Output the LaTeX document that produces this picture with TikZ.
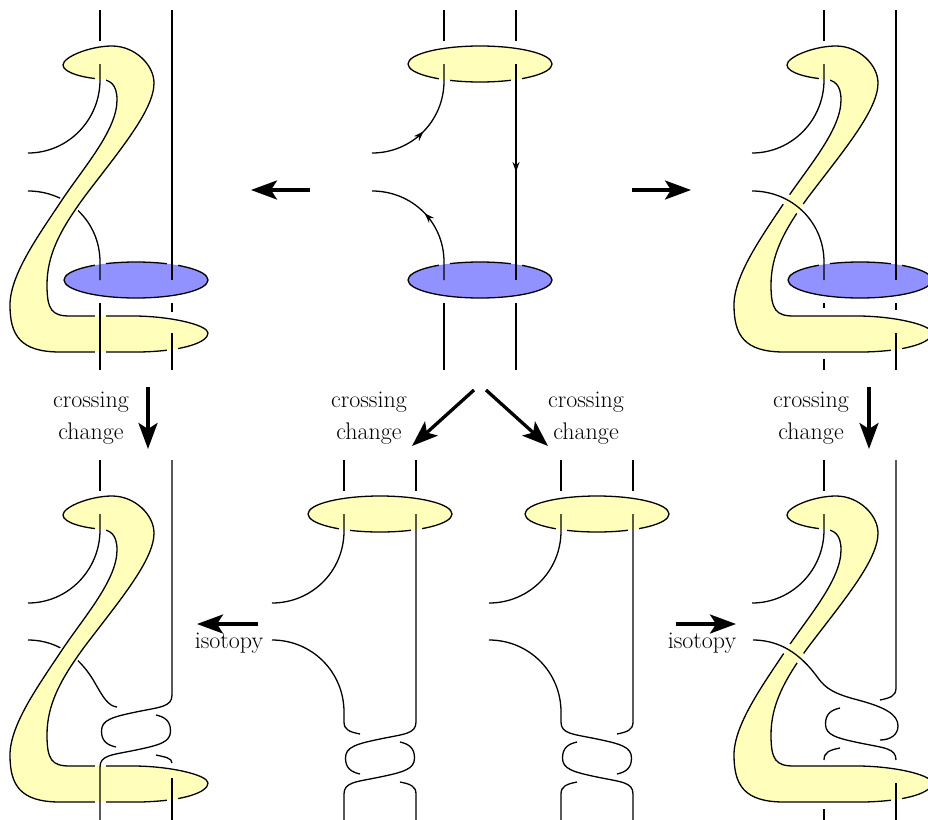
\documentclass[tikz,border=0pt]{standalone}
\usepackage{fontspec}
\usetikzlibrary{arrows.meta,decorations.markings}
\definecolor{yfill}{RGB}{255,255,187}
\definecolor{bfill}{RGB}{145,145,255}
\tikzset{
  strand/.style={line width=1.3pt},
  outl/.style={line width=1.3pt},
  bigarrow/.style={line width=3.3pt,-{Stealth[length=26pt,width=19pt,inset=6pt]}},
  lbl/.style={font=\fontsize{24}{28}\selectfont, inner sep=0pt},
  midarrow/.style={postaction={decorate},decoration={markings,mark=at position #1 with {\arrow{Stealth[length=10pt,width=7pt]}}}}
}
\newcommand{\bandpath}{(63,65) .. controls (63,57) and (90,46) .. (112,46) .. controls (135,46) and (154,65) .. (154,83) .. controls (154,110) and (120,150) .. (85,196) .. controls (60,230) and (47,255) .. (47,285) .. controls (47,310) and (52,316) .. (70,316) -- (133,316) .. controls (170,316) and (208,325) .. (208,333) .. controls (208,342) and (185,351) .. (140,352) -- (60,352) .. controls (20,352) and (10,335) .. (10,305) .. controls (10,275) and (38,236) .. (62,200) .. controls (84,167) and (117,130) .. (117,100) .. controls (117,84) and (110,80) .. (100,79) .. controls (85,78) and (63,73) .. (63,65) -- cycle}
\newcommand{\drawband}{\draw[white,line width=5pt] \bandpath; \fill[yfill] \bandpath; \draw[outl] \bandpath;}
\newcommand{\diskpath}[2]{(#1,#2) ellipse [x radius=72pt, y radius=18pt]}
\newcommand{\drawdisk}[3]{\fill[#3] \diskpath{#1}{#2}; \draw[outl] \diskpath{#1}{#2};}
\newcommand{\crossgap}[3]{\draw[white,line width=11pt] #3; \begin{scope}\clip #2; \draw[#1,line width=11pt] #3; \end{scope}}
\newcommand{\twA}{-- (0,0) .. controls (0,8) and (6,10) .. (16,12)}
\newcommand{\twB}{-- (72,0) .. controls (72,12) and (60,12) .. (36,17) .. controls (12,22) and (1.5,25) .. (1.5,36) .. controls (1.5,46) and (7,50) .. (16,52)}
\newcommand{\twC}{(56,20) .. controls (65,22) and (70.5,26) .. (70.5,36) .. controls (70.5,47) and (60,50) .. (36,55) .. controls (12,60) and (0,60) .. (0,72)}
\newcommand{\twD}{(56,60) .. controls (66,62) and (72,64) .. (72,72)}
\begin{document}
\begin{tikzpicture}[x=1pt,y=-1pt]
\useasboundingbox (0,0) rectangle (928,819);

% ===== Panel A (top left)
\begin{scope}
 \drawdisk{136}{280}{bfill}
 \crossgap{bfill}{\diskpath{136}{280}}{(100,250)--(100,272)}
 \crossgap{bfill}{\diskpath{136}{280}}{(172,250)--(172,272)}
 \draw[strand] (172,10) -- (172,280);
 \draw[strand] (28,191) .. controls (68,191) and (100,222) .. (100,262) -- (100,280);
 \drawband
 \crossgap{yfill}{\bandpath}{(100,68)--(100,90)}
 \crossgap{yfill}{\bandpath}{(100,306)--(100,364)}
 \crossgap{yfill}{\bandpath}{(172,338)--(172,362)}
 \draw[strand] (100,10) -- (100,41);
 \draw[strand] (100,64) -- (100,80) .. controls (100,120) and (68,153) .. (28,153);
 \draw[strand] (100,303) -- (100,370);
 \draw[strand] (172,303) -- (172,312);
 \draw[strand] (172,333) -- (172,370);
\end{scope}

% ===== Panel C (top right)
\begin{scope}[shift={(724,0)}]
 \drawdisk{136}{280}{bfill}
 \crossgap{bfill}{\diskpath{136}{280}}{(100,250)--(100,272)}
 \crossgap{bfill}{\diskpath{136}{280}}{(172,250)--(172,272)}
 \draw[strand] (172,10) -- (172,280);
 \drawband
 \crossgap{yfill}{\bandpath}{(100,68)--(100,90)}
 \crossgap{yfill}{\bandpath}{(28,191) .. controls (68,191) and (100,222) .. (100,262)}
 \crossgap{yfill}{\bandpath}{(172,338)--(172,362)}
 \draw[strand] (100,10) -- (100,41);
 \draw[strand] (100,64) -- (100,80) .. controls (100,120) and (68,153) .. (28,153);
 \draw[strand] (28,191) .. controls (68,191) and (100,222) .. (100,262) -- (100,280);
 \draw[strand] (100,303) -- (100,308);
 \draw[strand] (100,359) -- (100,370);
 \draw[strand] (172,303) -- (172,310);
 \draw[strand] (172,333) -- (172,370);
\end{scope}

% ===== Panel B (top middle)
\drawdisk{480}{64}{yfill}
\crossgap{yfill}{\diskpath{480}{64}}{(444,70)--(444,90)}
\crossgap{yfill}{\diskpath{480}{64}}{(516,70)--(516,90)}
\drawdisk{480}{280}{bfill}
\crossgap{bfill}{\diskpath{480}{280}}{(444,250)--(444,272)}
\crossgap{bfill}{\diskpath{480}{280}}{(516,250)--(516,272)}
\draw[strand] (444,10) -- (444,41);
\draw[strand] (516,10) -- (516,41);
\draw[strand,midarrow=0.44] (372,153) .. controls (412,153) and (444,121) .. (444,81) -- (444,64);
\draw[strand,midarrow=0.55] (444,280) -- (444,262) .. controls (444,222) and (412,191) .. (372,191);
\draw[strand,midarrow=0.5] (516,64) -- (516,280);
\draw[strand] (444,303) -- (444,370);
\draw[strand] (516,303) -- (516,370);

% ===== Panel D (bottom left)
\begin{scope}[shift={(0,450)}]
 \draw[strand] (28,190) .. controls (60,190) and (82,210) .. (95,233) .. controls (103,247) and (108,256) .. (117,257);
 \drawband
 \crossgap{yfill}{\bandpath}{(100,68)--(100,90)}
 \crossgap{yfill}{\bandpath}{(100,306)--(100,364)}
 \crossgap{yfill}{\bandpath}{(172,338)--(172,362)}
 \draw[strand] (100,10) -- (100,41);
 \draw[strand] (100,64) -- (100,80) .. controls (100,120) and (68,153) .. (28,153);
 \begin{scope}[shift={(100,245)}]
  \draw[strand] (72,-235) \twB;
  \draw[strand] \twC -- (0,130);
  \draw[strand] (56,60) .. controls (65,62) and (72,63) .. (72,68);
  \draw[strand] (72,83) -- (72,130);
 \end{scope}
\end{scope}

% ===== Panel E1
\begin{scope}[shift={(344,722)}]
 \drawdisk{36}{-208}{yfill}
 \crossgap{yfill}{\diskpath{36}{-208}}{(0,-200)--(0,-182)}
 \crossgap{yfill}{\diskpath{36}{-208}}{(72,-200)--(72,-182)}
 \draw[strand] (0,-262) -- (0,-231);
 \draw[strand] (72,-262) -- (72,-231);
 \draw[strand] (0,-208) -- (0,-191) .. controls (0,-151) and (-32,-119) .. (-72,-119);
 \draw[strand] (-72,-82) .. controls (-32,-82) and (0,-50) .. (0,-10) \twA;
 \draw[strand] (72,-208) \twB;
 \draw[strand] \twC -- (0,110);
 \draw[strand] \twD -- (72,110);
\end{scope}

% ===== Panel E2
\begin{scope}[shift={(561,722)}]
 \drawdisk{36}{-208}{yfill}
 \crossgap{yfill}{\diskpath{36}{-208}}{(0,-200)--(0,-182)}
 \crossgap{yfill}{\diskpath{36}{-208}}{(72,-200)--(72,-182)}
 \draw[strand] (0,-262) -- (0,-231);
 \draw[strand] (72,-262) -- (72,-231);
 \draw[strand] (0,-208) -- (0,-191) .. controls (0,-151) and (-32,-119) .. (-72,-119);
 \begin{scope}[shift={(72,0)},xscale=-1]
  \draw[strand] (144,-82) .. controls (104,-82) and (72,-50) .. (72,-10) \twB;
  \draw[strand] (0,-208) \twA;
  \draw[strand] \twC -- (0,110);
  \draw[strand] \twD -- (72,110);
 \end{scope}
\end{scope}

% ===== Panel F (bottom right)
\begin{scope}[shift={(724,450)}]
 \drawband
 \crossgap{yfill}{\bandpath}{(100,68)--(100,90)}
 \crossgap{yfill}{\bandpath}{(29,190) .. controls (61,190) and (81,210) .. (94,228)}
 \crossgap{yfill}{\bandpath}{(172,338)--(172,362)}
 \draw[strand] (100,10) -- (100,41);
 \draw[strand] (100,64) -- (100,80) .. controls (100,120) and (68,153) .. (28,153);
 \draw[strand] (29,190) .. controls (61,190) and (81,210) .. (94,228) .. controls (102,239) and (111,244) .. (134,250) .. controls (160,257) and (174,264) .. (174,276) .. controls (174,285) and (166,290) .. (156,290);
 \begin{scope}[shift={(172,238)},xscale=-1]
  \draw[strand] (0,-228) \twA;
  \draw[strand] \twC;
  \draw[strand] \twD;
 \end{scope}
 \draw[strand] (100,359) -- (100,375);
 \draw[strand] (172,333) -- (172,375);
\end{scope}

% ===== arrows and labels
\coordinate (tlS) at (310,190); \coordinate (tlE) at (251,190);
\coordinate (trS) at (632,190); \coordinate (trE) at (691,190);
\coordinate (dlS) at (148,387); \coordinate (dlE) at (148,449);
\coordinate (drS) at (869,387); \coordinate (drE) at (869,449);
\coordinate (mlS) at (474,390); \coordinate (mlE) at (412,446);
\coordinate (mrS) at (486,390); \coordinate (mrE) at (548,446);
\coordinate (ilS) at (258,624); \coordinate (ilE) at (197,624);
\coordinate (irS) at (676,624); \coordinate (irE) at (736,624);
\draw[bigarrow] (tlS) -- (tlE);
\draw[bigarrow] (trS) -- (trE);
\draw[bigarrow] (dlS) -- (dlE);
\draw[bigarrow] (drS) -- (drE);
\draw[bigarrow] (mlS) -- (mlE);
\draw[bigarrow] (mrS) -- (mrE);
\draw[bigarrow] (ilS) -- (ilE);
\draw[bigarrow] (irS) -- (irE);

\node[lbl,anchor=base] (c1) at (91,407) {crossing};
\node[lbl,anchor=base] (h1) at (91,439) {change};
\node[lbl,anchor=base] (c2) at (369,407) {crossing};
\node[lbl,anchor=base] (h2) at (369,439) {change};
\node[lbl,anchor=base] (c3) at (586,407) {crossing};
\node[lbl,anchor=base] (h3) at (586,439) {change};
\node[lbl,anchor=base] (c4) at (811,407) {crossing};
\node[lbl,anchor=base] (h4) at (811,439) {change};
\node[lbl,anchor=base] (i1) at (229,648) {isotopy};
\node[lbl,anchor=base] (i2) at (702,648) {isotopy};
\end{tikzpicture}
\end{document}
